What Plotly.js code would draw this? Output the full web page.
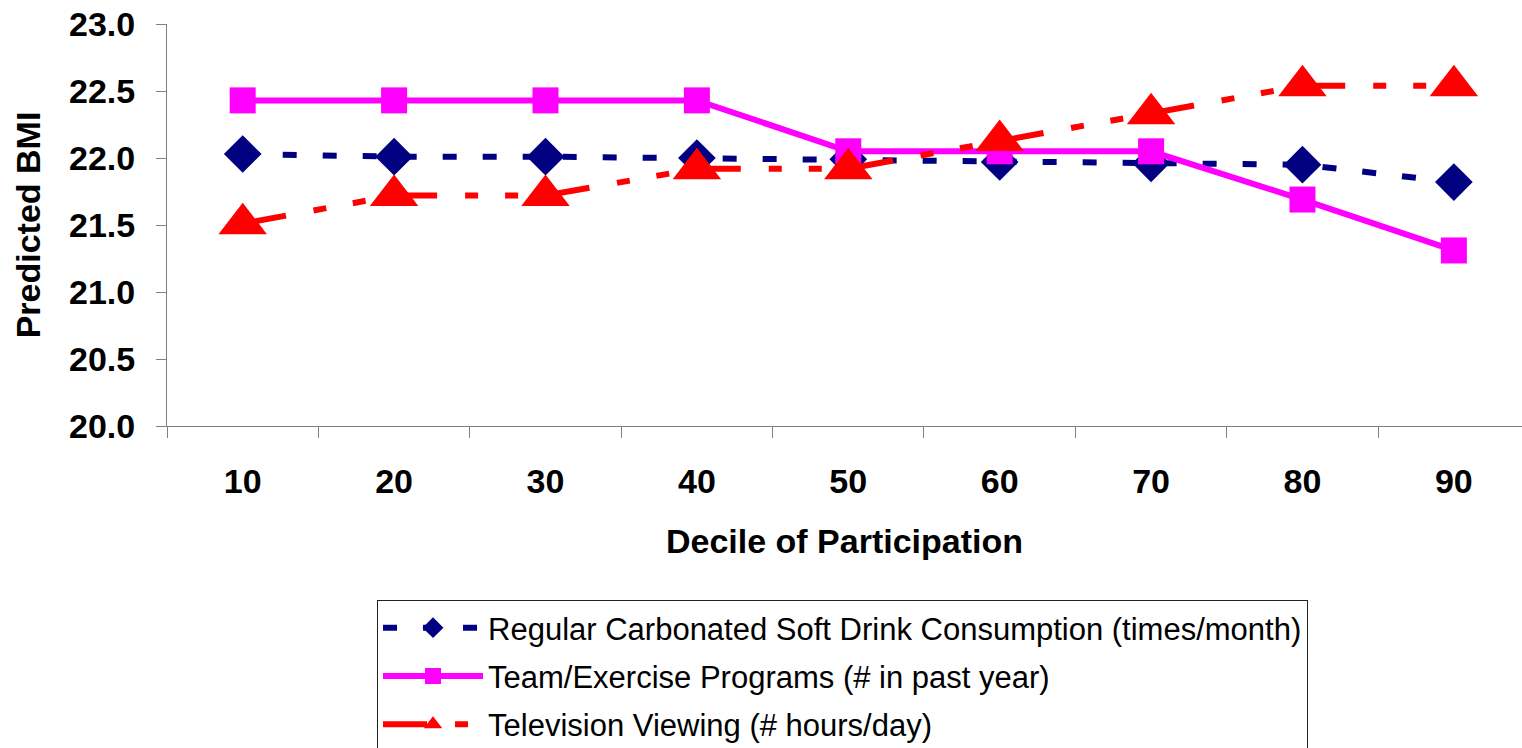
<!DOCTYPE html>
<html>
<head>
<meta charset="utf-8">
<script src="https://cdn.plot.ly/plotly-3.0.1.min.js"></script>
<style>html,body{margin:0;padding:0;background:#fff;}#chart{width:1522px;height:748px;}</style>
</head>
<body>
<div id="chart"></div>
<script>
const deciles = ["10", "20", "30", "40", "50", "60", "70", "80", "90"];
const softDrink = [22.03, 22.01, 22.01, 22.00, 21.99, 21.97, 21.96, 21.95, 21.82];
const teamExercise = [22.43, 22.43, 22.43, 22.43, 22.05, 22.05, 22.05, 21.69, 21.31];
const tvViewing = [21.51, 21.72, 21.72, 21.92, 21.92, 22.13, 22.33, 22.54, 22.54];
const seriesNames = [
  "Regular Carbonated Soft Drink Consumption (times/month)",
  "Team/Exercise Programs (# in past year)",
  "Television Viewing (# hours/day)"
];
const yTickVals = [20.0, 20.5, 21.0, 21.5, 22.0, 22.5, 23.0];
const yTickText = ["20.0", "20.5", "21.0", "21.5", "22.0", "22.5", "23.0"];

const FONT = "Liberation Sans, Arial, sans-serif";

const traces = [
  {
    x: deciles, y: softDrink, name: seriesNames[0], type: "scatter", mode: "lines+markers",
    legendgroup: "a",
    line: {color: "#000080", width: 6, dash: "14px,26px"},
    marker: {symbol: "diamond", size: 29, color: "#000080"}
  },
  {
    x: deciles, y: teamExercise, name: seriesNames[1], type: "scatter", mode: "lines+markers",
    legendgroup: "b",
    line: {color: "#FF00FF", width: 6},
    marker: {symbol: "square", size: 26, color: "#FF00FF"}
  },
  {
    x: deciles, y: tvViewing, name: seriesNames[2], type: "scatter", mode: "lines+markers",
    legendgroup: "c",
    line: {color: "#FF0000", width: 6, dash: "44px,28px,13px,27px,13px,28px"},
    marker: {symbol: "triangle-up", size: 42, color: "#FF0000"}
  }
];

const layout = {
  width: 1522, height: 748,
  margin: {l: 167, r: 0, t: 24, b: 322, autoexpand: false},
  paper_bgcolor: "#fff", plot_bgcolor: "#fff",
  font: {family: FONT, color: "#000"},
  showlegend: true,
  legend: {
    x: 0.155, y: -0.433, xanchor: "left", yanchor: "top",
    xref: "paper", yref: "paper",
    bgcolor: "#fff", bordercolor: "#222", borderwidth: 1,
    font: {family: FONT, size: 31, color: "#000"},
    traceorder: "grouped", tracegroupgap: 5,
    itemwidth: 100, itemsizing: "trace", maxheight: 2000
  },
  xaxis: {
    type: "category", categoryorder: "array", categoryarray: deciles,
    range: [-0.5, 8.45],
    tickson: "boundaries",
    ticks: "outside", ticklen: 11, tickcolor: "#808080", tickwidth: 1,
    showline: true, linecolor: "#808080", linewidth: 1,
    showgrid: false, zeroline: false,
    tickfont: {family: FONT, size: 34, weight: 700, color: "#000"},
    ticklabelstandoff: 25,
    title: {text: "Decile of Participation", standoff: 30,
            font: {family: FONT, size: 34, weight: 700, color: "#000"}}
  },
  yaxis: {
    range: [20, 23],
    tickmode: "array", tickvals: yTickVals, ticktext: yTickText,
    ticks: "outside", ticklen: 10, tickcolor: "#808080", tickwidth: 1,
    showline: true, linecolor: "#808080", linewidth: 1,
    showgrid: false, zeroline: false,
    tickfont: {family: FONT, size: 34, weight: 700, color: "#000"},
    ticklabelstandoff: 14,
    title: {text: "Predicted BMI", standoff: 18,
            font: {family: FONT, size: 34, weight: 700, color: "#000"}}
  }
};

Plotly.newPlot("chart", traces, layout, {staticPlot: true, displayModeBar: false});
</script>
</body>
</html>
